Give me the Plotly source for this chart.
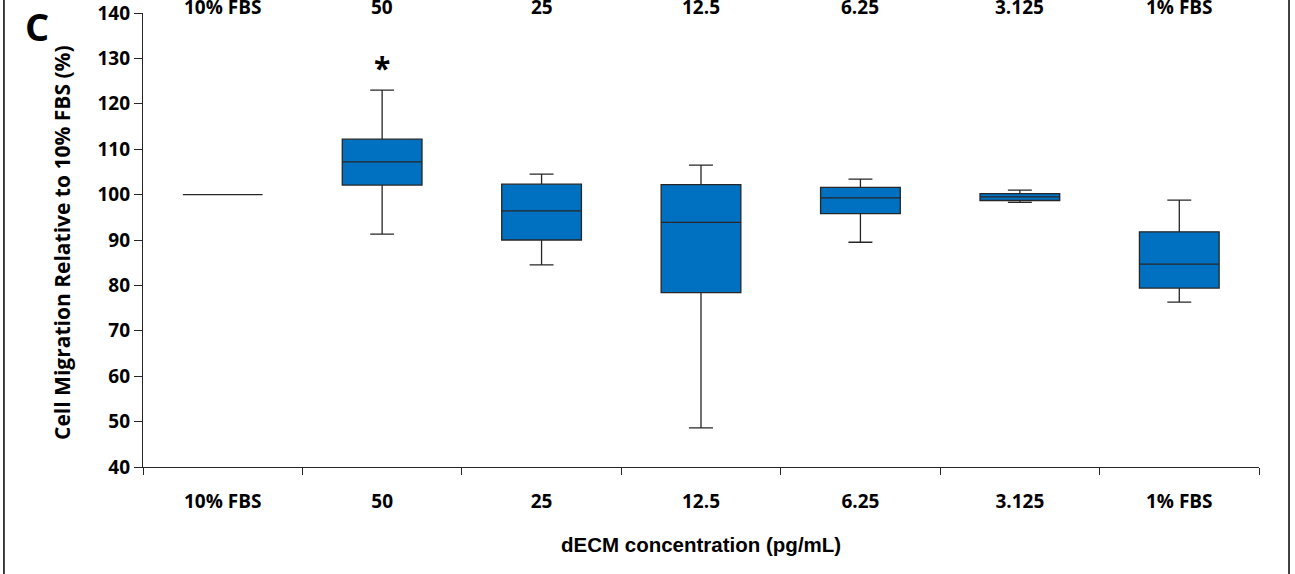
import plotly.graph_objects as go

categories = ["10% FBS", "50", "25", "12.5", "6.25", "3.125", "1% FBS"]
upper_whisker = [100, 123.0, 104.5, 106.5, 103.4, 101.0, 98.8]
q3_values = [100, 112.2, 102.3, 102.2, 101.6, 100.2, 91.8]
median_values = [100, 107.2, 96.4, 93.9, 99.3, 99.5, 84.7]
q1_values = [100, 102.1, 90.0, 78.4, 95.8, 98.7, 79.4]
lower_whisker = [100, 91.3, 84.5, 48.6, 89.5, 98.3, 76.3]
y_ticks = [40, 50, 60, 70, 80, 90, 100, 110, 120, 130, 140]
significant = ["50"]

FONT = "Open Sans"
ARIAL = "Liberation Sans"

fig = go.Figure()
fig.add_trace(go.Box(
    x=categories,
    q1=q1_values, median=median_values, q3=q3_values,
    lowerfence=lower_whisker, upperfence=upper_whisker,
    fillcolor="#0070C0",
    line=dict(color="#262626", width=1.3),
    width=0.5,
    whiskerwidth=0.3,
    boxpoints=False,
    showlegend=False,
    hoverinfo="skip",
))

# significance markers
for cat in significant:
    i = categories.index(cat)
    fig.add_annotation(x=i, y=upper_whisker[i], xref="x", yref="y",
                       text="<b>*</b>", showarrow=False, yanchor="bottom",
                       yshift=0, font=dict(family=FONT, size=30, color="black"))

# duplicate category labels on top
for i, cat in enumerate(categories):
    fig.add_annotation(x=i, y=1, xref="x", yref="paper", text=f"<b>{cat}</b>",
                       showarrow=False, yanchor="middle", yshift=6,
                       font=dict(family=FONT, size=19, color="black"))

# panel letter
fig.add_annotation(x=-0.095, y=1.0, xref="paper", yref="paper", text="<b>C</b>",
                   showarrow=False, xanchor="center", yanchor="middle", yshift=-13,
                   font=dict(family=FONT, size=38, color="black"))

# axis titles
fig.add_annotation(x=-0.0726, y=0.4956, xref="paper", yref="paper",
                   text="<b>Cell Migration Relative to 10% FBS (%)</b>",
                   textangle=-90, showarrow=False, xanchor="center", yanchor="middle",
                   font=dict(family=FONT, size=21, color="black"))
fig.add_annotation(x=0.5, y=-0.1718, xref="paper", yref="paper",
                   text="<b>dECM concentration (pg/mL)</b>",
                   showarrow=False, xanchor="center", yanchor="middle",
                   font=dict(family=ARIAL, size=20.5, color="black"))

# frame lines
for px in [-0.1246, 1.0269]:
    fig.add_shape(type="line", xref="paper", yref="paper", x0=px, x1=px,
                  y0=-0.3, y1=1.1, line=dict(color="black", width=1.5))

fig.update_layout(
    width=1295, height=574,
    margin=dict(l=143, r=36, t=13, b=107, autoexpand=False),
    plot_bgcolor="white", paper_bgcolor="white",
    font=dict(family=FONT, color="black"),
    xaxis=dict(
        type="category", categoryorder="array", categoryarray=categories,
        automargin=False,
        showline=True, linecolor="#262626", linewidth=1.3,
        ticks="outside", ticklen=7, tickcolor="#262626", tickwidth=1.3,
        tickson="boundaries", showgrid=False, zeroline=False,
        tickfont=dict(family=FONT, size=19, color="black"),
        ticklabelstandoff=17,
        tickvals=categories, ticktext=[f"<b>{c}</b>" for c in categories],
        range=[-0.5, 6.5],
    ),
    yaxis=dict(
        range=[40, 140], tickvals=y_ticks, automargin=False,
        ticktext=[f"<b>{v}</b>" for v in y_ticks],
        ticklabeloverflow="allow",
        showline=True, linecolor="#262626", linewidth=1.3,
        ticks="outside", ticklen=8, tickcolor="#262626", tickwidth=1.3,
        showgrid=False, zeroline=False,
        tickfont=dict(family=FONT, size=19, color="black"),
    ),
)

fig.write_html("out.html")
